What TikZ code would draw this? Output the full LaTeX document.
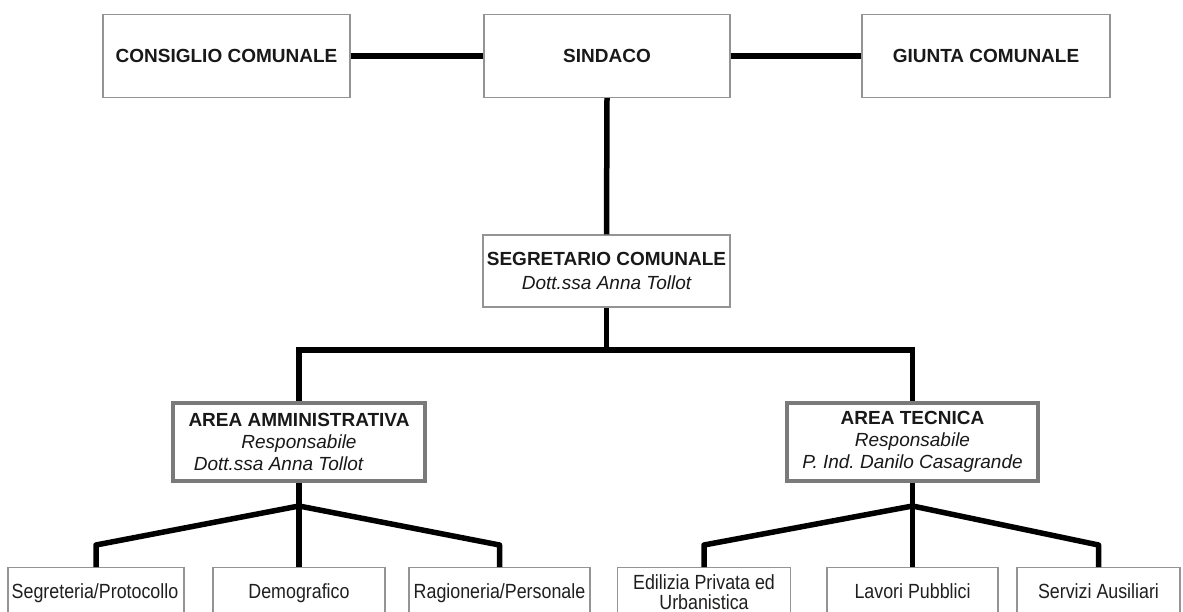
\documentclass[tikz,border=0pt]{standalone}
\usepackage{fontspec}
\setmainfont{Liberation Sans}
\newfontfamily\narrowfont{Liberation Sans}[FakeStretch=0.87]
\frenchspacing
\begin{document}
\begin{tikzpicture}[x=1pt,y=-1pt,
  tbox/.style={draw=black!42, line width=1.2pt, fill=white, inner sep=0pt, align=center, text=black!90},
  abox/.style={draw=black!52, line width=4.5pt, fill=white, inner sep=0pt, align=center, text=black!90},
  bbox/.style={draw=black!42, line width=1.2pt, fill=white, inner sep=0pt, anchor=north, minimum height=60pt},
  lbl/.style={inner sep=0pt, align=center, text=black!88, font=\narrowfont\fontsize{20.5}{19.5}\selectfont},
  conn/.style={line width=5.5pt, line join=round, draw=black},
  big/.style={font=\fontsize{19}{24}\selectfont},
  mid/.style={font=\fontsize{19}{22}\selectfont}]
\clip (0,0) rectangle (1183,612);
\fill[white] (0,0) rectangle (1183,612);
% top row
\node[tbox, big, minimum width=247pt, minimum height=83pt] (cons) at (226.5,56) {\bfseries CONSIGLIO COMUNALE};
\node[tbox, big, minimum width=246pt, minimum height=83pt] (sind) at (607,56) {\bfseries SINDACO};
\node[tbox, big, minimum width=248pt, minimum height=83pt] (giun) at (986,56) {\bfseries GIUNTA COMUNALE};
% segretario
\node[tbox, big, minimum width=247pt, minimum height=72pt] (segr) at (606.5,271) {\bfseries SEGRETARIO COMUNALE\\ \itshape Dott.ssa Anna Tollot};
% areas
\node[abox, mid, minimum width=252pt, minimum height=78pt] (amm) at (299,442) {\bfseries AREA AMMINISTRATIVA\\ \itshape Responsabile\\ \hspace*{-41pt}\itshape Dott.ssa Anna Tollot};
\node[abox, mid, minimum width=251pt, minimum height=78pt] (tec) at (912.5,442) {\bfseries AREA TECNICA\\ \itshape Responsabile\\ \itshape P. Ind. Danilo Casagrande};
% bottom row boxes
\node[bbox, minimum width=176pt] (seg) at (96,567) {};
\node[bbox, minimum width=172pt] (dem) at (299,567) {};
\node[bbox, minimum width=181pt] (rag) at (499.5,567) {};
\node[bbox, minimum width=173pt] (edi) at (704,567) {};
\node[bbox, minimum width=171pt] (lav) at (912.5,567) {};
\node[bbox, minimum width=163pt] (ser) at (1098.5,567) {};
% bottom row texts
\node[lbl, anchor=base] (segt) at (95,598) {Segreteria/Protocollo};
\node[lbl, anchor=base] (demt) at (299,598) {Demografico};
\node[lbl, anchor=base] (ragt) at (499.5,598) {Ragioneria/Personale};
\node[lbl] (edit) at (704,592) {Edilizia Privata ed\\Urbanistica};
\node[lbl, anchor=base] (lavt) at (912.5,598) {Lavori Pubblici};
\node[lbl, anchor=base] (sert) at (1098.5,598) {Servizi Ausiliari};
% coordinates
\coordinate (barL) at (296,350);
\coordinate (barR) at (915,350);
\coordinate (jA) at (299,506);
\coordinate (jT) at (912.5,506);
% connectors
\draw[conn] (cons.east) -- (sind.west);
\draw[conn] (sind.east) -- (giun.west);
\draw[conn] (sind.south) -- (segr.north);
\draw[conn] (segr.south) -- (segr.south |- barL);
\draw[conn] (barL) -- (barR);
\draw[conn] (amm.north |- barL) -- (amm.north);
\draw[conn] (tec.north |- barL) -- (tec.north);
\draw[conn] (amm.south) -- (jA);
\draw[conn] (jA) -- ([yshift=22pt]seg.north) -- (seg.north);
\draw[conn] (jA) -- (dem.north);
\draw[conn] (jA) -- ([yshift=22pt]rag.north) -- (rag.north);
\draw[conn] (tec.south) -- (jT);
\draw[conn] (jT) -- ([yshift=22pt]edi.north) -- (edi.north);
\draw[conn] (jT) -- (lav.north);
\draw[conn] (jT) -- ([yshift=22pt]ser.north) -- (ser.north);
\end{tikzpicture}
\end{document}
